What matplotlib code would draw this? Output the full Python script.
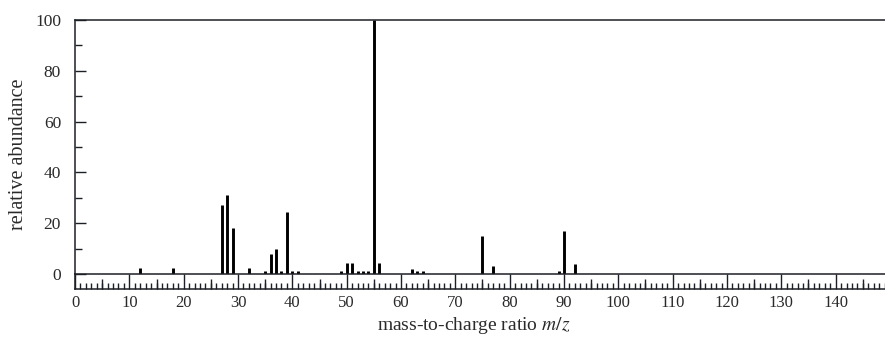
import numpy as np
import matplotlib.pyplot as plt
from matplotlib.ticker import MultipleLocator, NullFormatter

# mass spectrum peaks (m/z, relative abundance)
mz = [12, 18, 27, 28, 29, 32, 35, 36, 37, 38, 39, 40, 41,
      49, 50, 51, 52, 53, 54, 55, 56, 62, 63, 64, 75, 77, 89, 90, 92]
abundance = [2.5, 2.5, 27, 31, 18, 2.5, 1, 8, 10, 1, 24.5, 1, 1,
             1, 4.5, 4.5, 1, 1, 1, 100, 4.2, 2, 1, 1, 15, 3, 1, 17, 4]

x_labels = list(range(0, 150, 10))
y_labels = list(range(0, 101, 20))

plt.rcParams['font.family'] = ['Liberation Serif', 'DejaVu Serif']
plt.rcParams['mathtext.fontset'] = 'stix'
ink = '#1c1f26'
txt = '#2a2a2a'

W, H = 885, 350
fig = plt.figure(figsize=(W / 100, H / 100), dpi=100)

# main spectrum axes: y=0 at px 274, y=100 at px 20, x from px 75 over 0..150
ax = fig.add_axes([75 / W, (H - 274) / H, 815 / W, 254 / H])
ax.vlines(mz, 0, abundance, color='black', linewidth=2.1)
ax.set_xlim(0, 150)
ax.set_ylim(0, 100)
ax.set_xticks([])
ax.set_yticks(y_labels)
ax.yaxis.set_minor_locator(MultipleLocator(10))
ax.tick_params(axis='y', which='major', direction='in', length=8, width=1,
               color=ink, labelsize=12.5, pad=10, labelcolor=txt)
ax.tick_params(axis='y', which='minor', direction='in', length=5, width=1, color=ink)
ax.spines['right'].set_visible(False)
for s in ['left', 'top', 'bottom']:
    ax.spines[s].set_color(ink)
    ax.spines[s].set_linewidth(1.1)
ax.set_ylabel('relative abundance', fontsize=14.5, color=txt)
ax.yaxis.set_label_coords(-0.058, 0.47)

# tick strip below the baseline
strip = fig.add_axes([75 / W, (H - 288.5) / H, 815 / W, 14.5 / H])
strip.set_xlim(0, 150)
strip.set_ylim(0, 1)
strip.set_yticks([])
strip.set_xticks(x_labels)
strip.xaxis.set_minor_locator(MultipleLocator(1))
strip.tick_params(axis='x', which='major', direction='in', length=10.5, width=1,
                  color=ink, labelsize=12, pad=5, labelcolor=txt)
strip.tick_params(axis='x', which='minor', direction='in', length=4.5, width=1, color=ink)
strip.spines['right'].set_visible(False)
strip.spines['top'].set_visible(False)
for s in ['left', 'bottom']:
    strip.spines[s].set_color(ink)
    strip.spines[s].set_linewidth(1.1)
strip.patch.set_alpha(0)

# medium ticks at the fives
mid = strip.secondary_xaxis('bottom')
mid.set_xticks(np.arange(5, 150, 10))
mid.xaxis.set_major_formatter(NullFormatter())
mid.tick_params(axis='x', direction='in', length=7, width=1, color=ink)
mid.spines['bottom'].set_visible(False)

fig.text(474 / W, (H - 325) / H, 'mass-to-charge ratio $m/z$',
         ha='center', va='center', fontsize=14, color=txt)

fig.savefig('out.png', dpi=100)
